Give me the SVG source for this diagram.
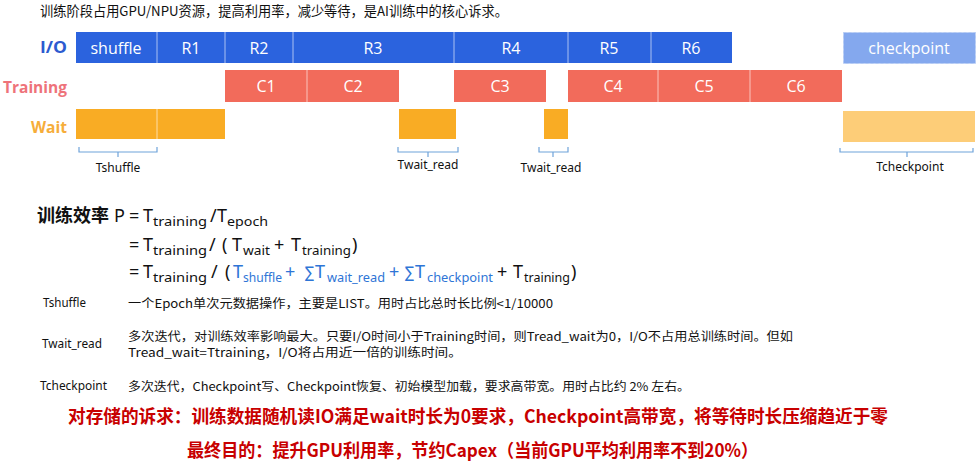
<svg xmlns="http://www.w3.org/2000/svg" width="979" height="465" viewBox="0 0 979 465">
<style>
text{font-family:"Noto Sans","Noto Sans CJK SC",sans-serif;}
.cjk{font-family:"Noto Sans CJK SC","Noto Sans",sans-serif;}
.io{fill:#2B63DE;}
.tr{fill:#F26B5B;}
.wt{fill:#F9AC24;}
.div{stroke:#ffffff;stroke-opacity:0.6;stroke-width:1;}
.bl{fill:#ffffff;font-size:16px;text-anchor:middle;font-family:"Open Sans","Noto Sans",sans-serif;}
.rl{font-size:16px;font-weight:bold;font-family:"Open Sans","Noto Sans",sans-serif;}
.br{fill:none;stroke:#6FA3DA;stroke-width:1.2;}
.bt{font-size:12px;fill:#111;text-anchor:middle;}
.f{font-size:18px;fill:#111;}
.s{font-size:12.5px;fill:#111;}
.sg{font-size:16px;font-family:"DejaVu Sans",sans-serif;}
.b{fill:#2E75D6;}
.d{font-size:12px;fill:#111;}
.red{font-size:18px;font-weight:bold;fill:#C80000;}
</style>
<rect width="979" height="465" fill="#ffffff"/>
<text class="cjk" x="40" y="16" font-size="13.5" fill="#111" textLength="468" lengthAdjust="spacingAndGlyphs">训练阶段占用GPU/NPU资源，提高利用率，减少等待，是AI训练中的核心诉求。</text>

<g id="row-labels">
<text class="rl" x="40" y="53" fill="#2C5BD0" textLength="27" lengthAdjust="spacingAndGlyphs">I/O</text>
<text class="rl" x="3" y="93" fill="#EE737A" textLength="64" lengthAdjust="spacingAndGlyphs">Training</text>
<text class="rl" x="31" y="133" fill="#F6AD3A" textLength="36" lengthAdjust="spacingAndGlyphs">Wait</text>
</g>

<g id="io-bar">
<rect class="io" x="76" y="32" width="656" height="31"/>
<line class="div" x1="157" y1="32" x2="157" y2="63"/>
<line class="div" x1="225" y1="32" x2="225" y2="63"/>
<line class="div" x1="293" y1="32" x2="293" y2="63"/>
<line class="div" x1="454" y1="32" x2="454" y2="63"/>
<line class="div" x1="568" y1="32" x2="568" y2="63"/>
<line class="div" x1="651" y1="32" x2="651" y2="63"/>
<text class="bl" x="116" y="54">shuffle</text>
<text class="bl" x="191" y="54">R1</text>
<text class="bl" x="259" y="54">R2</text>
<text class="bl" x="373" y="54">R3</text>
<text class="bl" x="511" y="54">R4</text>
<text class="bl" x="609" y="54">R5</text>
<text class="bl" x="691" y="54">R6</text>
</g>
<g id="checkpoint">
<rect x="843.5" y="32.5" width="132" height="31" fill="#84A8EE" stroke="#B5CBF4" stroke-dasharray="3 2"/>
<text class="bl" x="909" y="54">checkpoint</text>
</g>

<g id="training-bar">
<rect class="tr" x="225" y="70" width="174" height="32"/>
<line class="div" x1="307" y1="70" x2="307" y2="102"/>
<rect class="tr" x="454" y="70" width="92" height="32"/>
<rect class="tr" x="568" y="70" width="274" height="32"/>
<line class="div" x1="658" y1="70" x2="658" y2="102"/>
<line class="div" x1="750" y1="70" x2="750" y2="102"/>
<text class="bl" x="266" y="92">C1</text>
<text class="bl" x="353" y="92">C2</text>
<text class="bl" x="500" y="92">C3</text>
<text class="bl" x="613" y="92">C4</text>
<text class="bl" x="704" y="92">C5</text>
<text class="bl" x="796" y="92">C6</text>
</g>

<g id="wait-bar">
<rect class="wt" x="76" y="109" width="149" height="30"/>
<line class="div" x1="157" y1="109" x2="157" y2="139"/>
<rect class="wt" x="399" y="109" width="57" height="30"/>
<rect class="wt" x="544" y="109" width="24" height="30"/>
<rect x="843" y="111" width="132" height="31" fill="#FDCD78"/>
</g>

<g id="brackets">
<path class="br" d="M79,147 V152 H157 V147 M118,152 V157"/>
<text class="bt" x="118" y="172">Tshuffle</text>
<path class="br" d="M398,147 V152 H458 V147 M428,152 V157"/>
<text class="bt" x="428" y="169">Twait_read</text>
<path class="br" d="M539,147 V152 H568 V147 M553,152 V157"/>
<text class="bt" x="551" y="172">Twait_read</text>
<path class="br" d="M840,148 V152 H973 V148 M907,152 V157"/>
<text class="bt" x="910" y="171">Tcheckpoint</text>
</g>

<g id="formula">
<text class="cjk" x="37" y="222" font-size="18" font-weight="bold" fill="#111" textLength="72" lengthAdjust="spacingAndGlyphs">训练效率</text>
<text class="f" x="114" y="222">P</text>
<text class="f" x="129" y="222">=</text>
<text class="f" x="143" y="222">T</text>
<text class="s" x="153" y="226" textLength="54" lengthAdjust="spacingAndGlyphs">training</text>
<text class="f" x="210" y="222">/</text>
<text class="f" x="217" y="222">T</text>
<text class="s" x="227" y="226" textLength="41" lengthAdjust="spacingAndGlyphs">epoch</text>

<text class="f" x="129" y="251">=</text>
<text class="f" x="143" y="251">T</text>
<text class="s" x="153" y="255" textLength="54" lengthAdjust="spacingAndGlyphs">training</text>
<text class="f" x="209" y="251">/</text>
<text class="f" x="222" y="251">(</text>
<text class="f" x="232" y="251">T</text>
<text class="s" x="243" y="255" textLength="27" lengthAdjust="spacingAndGlyphs">wait</text>
<text class="f" x="274" y="251">+</text>
<text class="f" x="291" y="251">T</text>
<text class="s" x="302" y="255" textLength="49" lengthAdjust="spacingAndGlyphs">training</text>
<text class="f" x="352" y="251">)</text>

<text class="f" x="129" y="278">=</text>
<text class="f" x="143" y="278">T</text>
<text class="s" x="153" y="282" textLength="54" lengthAdjust="spacingAndGlyphs">training</text>
<text class="f" x="211" y="278">/</text>
<text class="f" x="225" y="278">(</text>
<text class="f b" x="233" y="278">T</text>
<text class="s b" x="243" y="282" textLength="39" lengthAdjust="spacingAndGlyphs">shuffle</text>
<text class="f b" x="285" y="278">+</text>
<text class="sg b" x="305" y="278" textLength="9" lengthAdjust="spacingAndGlyphs">∑</text>
<text class="f b" x="315" y="278">T</text>
<text class="s b" x="327" y="282" textLength="58" lengthAdjust="spacingAndGlyphs">wait_read</text>
<text class="f b" x="389" y="278">+</text>
<text class="sg b" x="405" y="278" textLength="9" lengthAdjust="spacingAndGlyphs">∑</text>
<text class="f b" x="415" y="278">T</text>
<text class="s b" x="427" y="282" textLength="66" lengthAdjust="spacingAndGlyphs">checkpoint</text>
<text class="f" x="497" y="278">+</text>
<text class="f" x="513" y="278">T</text>
<text class="s" x="524" y="282" textLength="46" lengthAdjust="spacingAndGlyphs">training</text>
<text class="f" x="571" y="278">)</text>
</g>

<g id="descriptions">
<text class="d" x="43" y="307" textLength="43" lengthAdjust="spacingAndGlyphs">Tshuffle</text>
<text class="d cjk" x="128" y="308" textLength="425" lengthAdjust="spacingAndGlyphs">一个Epoch单次元数据操作，主要是LIST。用时占比总时长比例&lt;1/10000</text>
<text class="d" x="42" y="348" textLength="60" lengthAdjust="spacingAndGlyphs">Twait_read</text>
<text class="d cjk" x="128" y="341" textLength="665" lengthAdjust="spacingAndGlyphs">多次迭代，对训练效率影响最大。只要I/O时间小于Training时间，则Tread_wait为0，I/O不占用总训练时间。但如</text>
<text class="d cjk" x="128" y="357" textLength="334" lengthAdjust="spacingAndGlyphs">Tread_wait=Ttraining，I/O将占用近一倍的训练时间。</text>
<text class="d" x="40" y="390" textLength="67" lengthAdjust="spacingAndGlyphs">Tcheckpoint</text>
<text class="d cjk" x="128" y="391" textLength="562" lengthAdjust="spacingAndGlyphs">多次迭代，Checkpoint写、Checkpoint恢复、初始模型加载，要求高带宽。用时占比约 2% 左右。</text>
</g>

<g id="conclusion">
<text class="red cjk" x="68" y="423" textLength="820" lengthAdjust="spacingAndGlyphs">对存储的诉求：训练数据随机读IO满足wait时长为0要求，Checkpoint高带宽，将等待时长压缩趋近于零</text>
<text class="red cjk" x="187" y="457" textLength="571" lengthAdjust="spacingAndGlyphs">最终目的：提升GPU利用率，节约Capex（当前GPU平均利用率不到20%）</text>
</g>
</svg>
